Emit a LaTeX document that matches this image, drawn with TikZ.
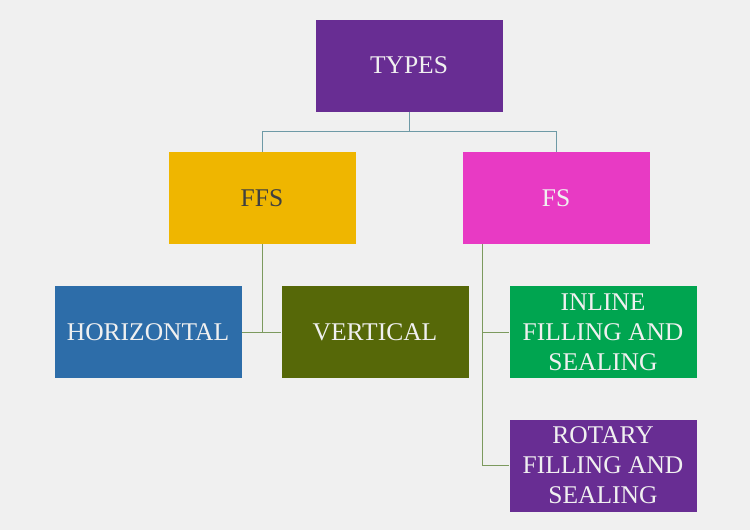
\documentclass[tikz,border=0pt]{standalone}
\usepackage{fontspec}
\setmainfont{Liberation Serif}
\definecolor{bg}{HTML}{F0F0F0}
\definecolor{cpurple}{HTML}{682D93}
\definecolor{cgold}{HTML}{EFB600}
\definecolor{cmag}{HTML}{E83AC4}
\definecolor{cblue}{HTML}{2D6DA9}
\definecolor{colive}{HTML}{566808}
\definecolor{cgreen}{HTML}{00A550}
\definecolor{ltop}{HTML}{6E9AA6}
\definecolor{lgreen}{HTML}{7C9A5E}
\definecolor{txt}{HTML}{F0F0F0}
\begin{document}
\begin{tikzpicture}[x=1pt,y=-1pt,
  box/.style={draw=none,minimum width=187pt,minimum height=92pt,inner sep=0pt,
    align=center,font=\fontsize{25.5}{30}\selectfont,text=txt},
  ltopline/.style={draw=ltop,line width=1pt},
  lgline/.style={draw=lgreen,line width=1pt}]
\fill[bg] (0,0) rectangle (750,530);
\useasboundingbox (0,0) rectangle (750,530);
\node[box,fill=cpurple] (types) at (409,65.5) {TYPES};
\node[box,fill=cgold,text=black!75] (ffs) at (262,198) {FFS};
\node[box,fill=cmag] (fs) at (556,198) {FS};
\node[box,fill=cblue] (hor) at (148,332) {HORIZONTAL};
\node[box,fill=colive] (ver) at (375,332) {VERTICAL};
\node[box,fill=cgreen] (inl) at (603,332) {INLINE\\FILLING AND\\SEALING};
\node[box,fill=cpurple] (rot) at (603,465.5) {ROTARY\\FILLING AND\\SEALING};
\coordinate (j) at (409,131);
\draw[ltopline] (types.south) -- (j) -| (ffs.north);
\draw[ltopline] (j) -| (fs.north);
\draw[lgline] (ffs.south) -- (262,332);
\draw[lgline] (hor.east) -- (ver.west);
\coordinate (fsb) at (482,244);
\draw[lgline] (fsb) |- (rot.west);
\draw[lgline] (482,332) -- (inl.west);
\end{tikzpicture}
\end{document}
